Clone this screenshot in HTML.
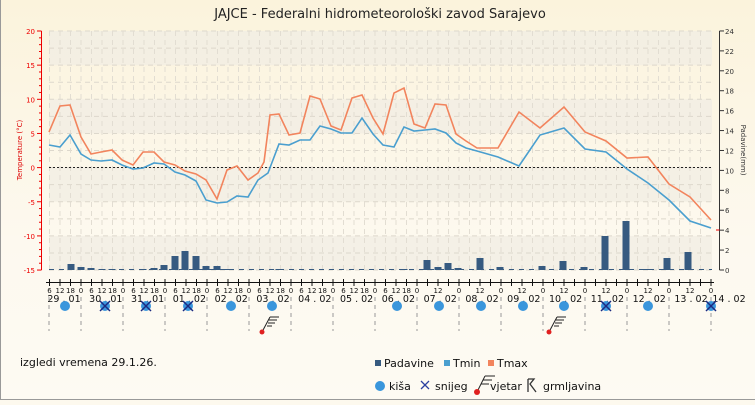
<!DOCTYPE html><html><head><meta charset="utf-8"><style>
body{margin:0;width:755px;height:400px;overflow:hidden;background:#fdf9ee;font-family:"Liberation Sans","DejaVu Sans",sans-serif}
</style></head><body>
<svg id="s" width="755" height="400" xmlns="http://www.w3.org/2000/svg" font-family="DejaVu Sans, Liberation Sans, sans-serif">
<defs><linearGradient id="bg" x1="0" y1="0" x2="0" y2="1"><stop offset="0" stop-color="#fbf3dc"/><stop offset="0.6" stop-color="#fdf9ef"/><stop offset="1" stop-color="#fdfaf3"/></linearGradient></defs>
<rect width="755" height="400" fill="url(#bg)"/>
<line x1="0.5" y1="0" x2="0.5" y2="400" stroke="#999"/>
<line x1="0" y1="399.5" x2="755" y2="399.5" stroke="#999"/>
<text x="380" y="18" text-anchor="middle" font-size="13" fill="#222">JAJCE - Federalni hidrometeorološki zavod Sarajevo</text>
<g id="bands"></g>
<g id="grid"></g>
<line x1="49" y1="167.5" x2="712" y2="167.5" stroke="#222" stroke-dasharray="2,2"/>
<g id="bars" fill="#365a80"></g>
<line x1="49" y1="269.5" x2="712" y2="269.5" stroke="#365a80" stroke-dasharray="5,5"/>
<polyline fill="none" stroke="#f2845d" stroke-width="1.6" points="49,132 60,106 70,105 81,137 91,154 101,152 112,150 122,160 133,165 143,152 154,152 164,162 175,165 185,171 196,174 206,180 217,199 227,170 237,166 248,180 258,173 264,162 270,115 279,114 289,135 300,133 310,96 320,99 331,126 341,130 352,98 362,95 373,118 383,134 394,93 404,88 414,124 425,128 435,104 446,105 456,134 466,141 477,148 487,148 498,148 519,112 540,128 564,107 585,132 606,141 627,158 648,157 669,184 690,197 711,220"/>
<polyline fill="none" stroke="#4a9fcf" stroke-width="1.6" points="49,145 60,147 70,135 81,154 91,160 101,161 112,160 122,165 133,169 143,168 154,163 164,164 175,172 185,175 196,181 206,200 217,203 227,202 237,196 248,197 258,180 268,173 279,144 289,145 300,140 310,140 320,126 331,129 341,133 352,133 362,118 373,134 383,145 394,147 404,127 414,131 425,130 435,129 446,133 456,143 466,148 477,151 498,157 519,166 540,135 564,128 585,149 606,152 627,169 648,183 669,200 690,221 711,228"/>
<g id="axes"></g>
<text transform="translate(22,150) rotate(-90)" text-anchor="middle" font-size="7" fill="#d00">Temperature (°C)</text>
<text transform="translate(741,150) rotate(90)" text-anchor="middle" font-size="7" fill="#333">Padavine(mm)</text>
<g id="icons"></g>
<text x="20" y="366" font-size="11" fill="#111">izgledi vremena 29.1.26.</text>
<rect x="375" y="360" width="6" height="6" fill="#365a80"/><text x="384" y="367" font-size="11" fill="#111">Padavine</text>
<rect x="444" y="360" width="6" height="6" fill="#4a9fcf"/><text x="453" y="367" font-size="11" fill="#111">Tmin</text>
<rect x="488" y="360" width="6" height="6" fill="#f2845d"/><text x="497" y="367" font-size="11" fill="#111">Tmax</text>
<circle cx="380" cy="386" r="5" fill="#3a96dc"/><text x="389" y="390" font-size="11" fill="#111">kiša</text>
<path d="M421,381 l8,8 M429,381 l-8,8" stroke="#2b3fa0" stroke-width="1.3"/><text x="435" y="390" font-size="11" fill="#111">snijeg</text>
<g transform="translate(477,392)"><line x1="0" y1="0" x2="8" y2="-16" stroke="#222"/><path d="M8,-16h10M6,-12h9M4,-8h8" stroke="#222" fill="none"/><circle r="3" fill="#e02020"/></g>
<text x="490" y="390" font-size="11" fill="#111">vjetar</text>
<path d="M528,379v13M528,379h6l-4,5l6,8" stroke="#333" fill="none" stroke-width="1.3"/><text x="543" y="390" font-size="11" fill="#111">grmljavina</text>
</svg>
<script>
const NS="http://www.w3.org/2000/svg";
function el(p,t,a,txt){const e=document.createElementNS(NS,t);for(const k in a)e.setAttribute(k,a[k]);if(txt!==undefined)e.textContent=txt;document.getElementById(p).appendChild(e);return e;}
const y=v=>167.6-v*6.83;
for(let v=-15;v<20;v+=10){el("bands","rect",{x:49,y:y(v+5),width:663,height:34.15,fill:"#f1ede3",opacity:0.8});}
for(let v=-15;v<=20;v+=2.5){el("grid","line",{x1:49,x2:712,y1:y(v),y2:y(v),stroke:"#ddd8cc","stroke-dasharray":"5,4"});}
for(let i=1;i<64;i++){const x=39+i*10.5;el("grid","line",{x1:x,x2:x,y1:31,y2:270,stroke:"#e2ddd2","stroke-dasharray":"5,4"});}
el("axes","line",{x1:41.5,x2:41.5,y1:31,y2:270,stroke:"#e00"});
for(let v=-15;v<=20;v++){const t=v%5==0;el("axes","line",{x1:t?37:39,x2:41.5,y1:y(v),y2:y(v),stroke:"#e00"});if(t)el("axes","text",{x:35,y:y(v)+3,"text-anchor":"end","font-size":7,fill:"#e00"},v);}
el("axes","line",{x1:719.5,x2:719.5,y1:31,y2:270,stroke:"#333"});
for(let m=0;m<=24;m+=2){const yy=270-m*9.96;el("axes","line",{x1:719.5,x2:724,y1:yy,y2:yy,stroke:"#333"});el("axes","text",{x:725,y:yy+3,"font-size":7,fill:"#333"},m);}
el("axes","line",{x1:716,x2:719.5,y1:230,y2:230,stroke:"#e00"});
const bars=[[71,264],[81,267],[91,268],[102,269],[112,269],[143,269],[154,268],[164,265],[175,256],[185,251],[196,256],[206,266],[217,266],[227,269],[279,269],[404,269],[427,260],[438,267],[448,263],[458,268],[480,258],[500,267],[542,266],[563,261],[584,267],[605,236],[626,221],[647,269],[667,258],[688,252]];
bars.forEach(b=>el("bars","rect",{x:b[0]-3.5,y:b[1],width:7,height:270-b[1]}));
el("axes","line",{x1:46,x2:714,y1:282.5,y2:282.5,stroke:"#111"});
for(let i=1;i<=64;i++){const x=39+i*10.5,h=(i%4)*6,d=Math.floor(i/4);
 const full=d<9||(d==9&&h==0);const show=full||h==0||h==12;
 el("axes","line",{x1:x,x2:x,y1:279,y2:286,stroke:"#111"});
 if(show)el("axes","text",{x:x,y:293,"text-anchor":"middle","font-size":7,fill:"#111"},h);}
const days=["29 . 01","30 . 01","31 . 01","01 . 02","02 . 02","03 . 02","04 . 02","05 . 02","06 . 02","07 . 02","08 . 02","09 . 02","10 . 02","11 . 02","12 . 02","13 . 02","14 . 02"];
days.forEach((d,i)=>el("axes","text",{x:i==16?729:64+i*41.8,y:302,"text-anchor":"middle","font-size":9.5,fill:"#111"},d));
for(let i=0;i<17;i++){const x=i==0?49:39+i*42;el("icons","line",{x1:x,x2:x,y1:297,y2:331,stroke:"#999","stroke-dasharray":"4,4"});}
[65,231,272,397,439,481,523,564,648].forEach(x=>el("icons","circle",{cx:x,cy:306,r:5,fill:"#3a96dc"}));
[105,146,188,606,711].forEach(x=>{el("icons","circle",{cx:x,cy:306,r:5,fill:"#3a96dc"});el("icons","path",{d:`M${x-5},${301}l10,10M${x+5},301l-10,10`,stroke:"#1c2a80","stroke-width":1.5});});
[[262,332],[549,332]].forEach(p=>{const g=el("icons","g",{transform:`translate(${p[0]},${p[1]})`});
 g.innerHTML='<line x1="0" y1="0" x2="8" y2="-15" stroke="#222"/><path d="M8,-15h9M7,-12h8M6,-9h7M5,-6h5" stroke="#222" fill="none"/><circle r="2.5" fill="#e02020"/>';});
</script>
</body></html>
